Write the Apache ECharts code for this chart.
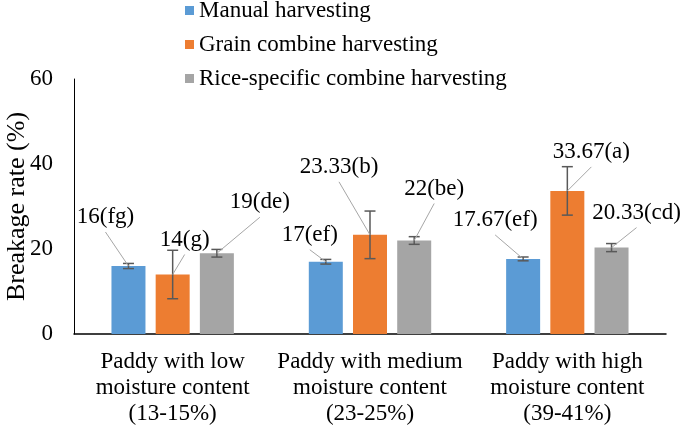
<!DOCTYPE html>
<html>
<head>
<meta charset="utf-8">
<script src="https://cdn.jsdelivr.net/npm/echarts@6/dist/echarts.min.js"></script>
<style>
html,body{margin:0;padding:0;background:#fff;}
#chart{width:682px;height:426px;}
</style>
</head>
<body>
<div id="chart"></div>
<script>
// ---- data ----
var categories = ['Paddy with low\nmoisture content\n(13-15%)', 'Paddy with medium\nmoisture content\n(23-25%)', 'Paddy with high\nmoisture content\n(39-41%)'];
var seriesNames = ['Manual harvesting', 'Grain combine harvesting', 'Rice-specific combine harvesting'];
var manual = [16, 17, 17.67];
var grain = [14, 23.33, 33.67];
var rice = [19, 22, 20.33];
var manualErr = [0.6, 0.55, 0.45];
var grainErr = [5.7, 5.6, 5.7];
var riceErr = [0.9, 0.9, 0.95];
var manualLetters = ['fg', 'ef', 'ef'];
var grainLetters = ['g', 'b', 'a'];
var riceLetters = ['de', 'be', 'cd'];
var yTicks = [0, 20, 40, 60];

// ---- layout / style (not data) ----
var colors = ['#5B9BD5', '#ED7D31', '#A5A5A5'];
var FONT = '"Liberation Serif", "Times New Roman", serif';
var BAR_W = 34, BAR_GAP = 0.3;
var barOffsets = [-(BAR_W * (1 + BAR_GAP)), 0, BAR_W * (1 + BAR_GAP)];
// label centre offsets (dx, dy) from each bar top, in px
var labelOffsets = [
  [[-23, -49], [-16, -27], [-28, -39]],
  [[12, -35], [-31, -68], [24, -39]],
  [[43, -51], [20, -52], [25, -35]]
];

var values = [manual, grain, rice];
var errs = [manualErr, grainErr, riceErr];
var letters = [manualLetters, grainLetters, riceLetters];

var series = [];
values.forEach(function (vals, s) {
  series.push({
    name: seriesNames[s],
    type: 'bar',
    data: vals,
    barWidth: BAR_W,
    barGap: (BAR_GAP * 100) + '%',
    itemStyle: { color: colors[s] },
    z: 2
  });
});
// error bars
values.forEach(function (vals, s) {
  series.push({
    type: 'custom',
    name: seriesNames[s] + ' err',
    z: 5,
    silent: true,
    data: vals.map(function (v, i) { return [i, v - errs[s][i], v + errs[s][i]]; }),
    encode: { x: 0, y: [1, 2] },
    renderItem: function (params, api) {
      var i = api.value(0);
      var lo = api.coord([i, api.value(1)]);
      var hi = api.coord([i, api.value(2)]);
      var x = lo[0] + barOffsets[s];
      var hw = 5.5;
      var st = { stroke: '#595959', lineWidth: 1.5 };
      return {
        type: 'group',
        children: [
          { type: 'line', shape: { x1: x, y1: lo[1], x2: x, y2: hi[1] }, style: st },
          { type: 'line', shape: { x1: x - hw, y1: lo[1], x2: x + hw, y2: lo[1] }, style: st },
          { type: 'line', shape: { x1: x - hw, y1: hi[1], x2: x + hw, y2: hi[1] }, style: st }
        ]
      };
    }
  });
});
// data callouts with leader lines
values.forEach(function (vals, s) {
  series.push({
    type: 'custom',
    name: seriesNames[s] + ' label',
    z: 6,
    silent: true,
    data: vals.map(function (v, i) { return [i, v]; }),
    encode: { x: 0, y: 1 },
    renderItem: function (params, api) {
      var i = api.value(0);
      var v = api.value(1);
      var p = api.coord([i, v]);
      var bx = p[0] + barOffsets[s];
      var by = p[1];
      var off = labelOffsets[s][i];
      var lx = bx + off[0], ly = by + off[1];
      return {
        type: 'group',
        children: [
          { type: 'line', shape: { x1: lx, y1: ly + 15, x2: bx, y2: by }, style: { stroke: '#A6A6A6', lineWidth: 1 } },
          { type: 'text', style: { text: vals[i] + '(' + letters[s][i] + ')', x: lx, y: ly, align: 'center', verticalAlign: 'middle', fill: '#000', font: '23px ' + FONT } }
        ]
      };
    }
  });
});

var chart = echarts.init(document.getElementById('chart'));
chart.setOption({
  animation: false,
  backgroundColor: '#fff',
  textStyle: { fontFamily: FONT },
  legend: {
    data: seriesNames,
    orient: 'vertical',
    left: 180,
    top: -6,
    itemWidth: 9,
    itemHeight: 9,
    itemGap: 11,
    icon: 'rect',
    textStyle: { fontFamily: FONT, fontSize: 23, color: '#000', lineHeight: 22 }
  },
  grid: { left: 74, right: 16, top: 79, bottom: 92, containLabel: false, outerBoundsMode: 'none' },
  xAxis: {
    type: 'category',
    data: categories,
    axisLine: { lineStyle: { color: '#000', width: 1.5 } },
    axisTick: { show: false },
    axisLabel: { fontFamily: FONT, fontSize: 23, color: '#000', lineHeight: 26, margin: 15, interval: 0 }
  },
  yAxis: {
    type: 'value',
    min: yTicks[0],
    max: yTicks[yTicks.length - 1],
    interval: yTicks[1] - yTicks[0],
    name: 'Breakage rate (%)',
    nameLocation: 'middle',
    nameGap: 44,
    nameMoveOverlap: false,
    nameTextStyle: { fontFamily: FONT, fontSize: 26, color: '#000' },
    axisLine: { show: true, lineStyle: { color: '#000', width: 1 } },
    axisTick: { show: false },
    splitLine: { show: false },
    axisLabel: { fontFamily: FONT, fontSize: 23, color: '#000', margin: 21 }
  },
  series: series
});
</script>
</body>
</html>
